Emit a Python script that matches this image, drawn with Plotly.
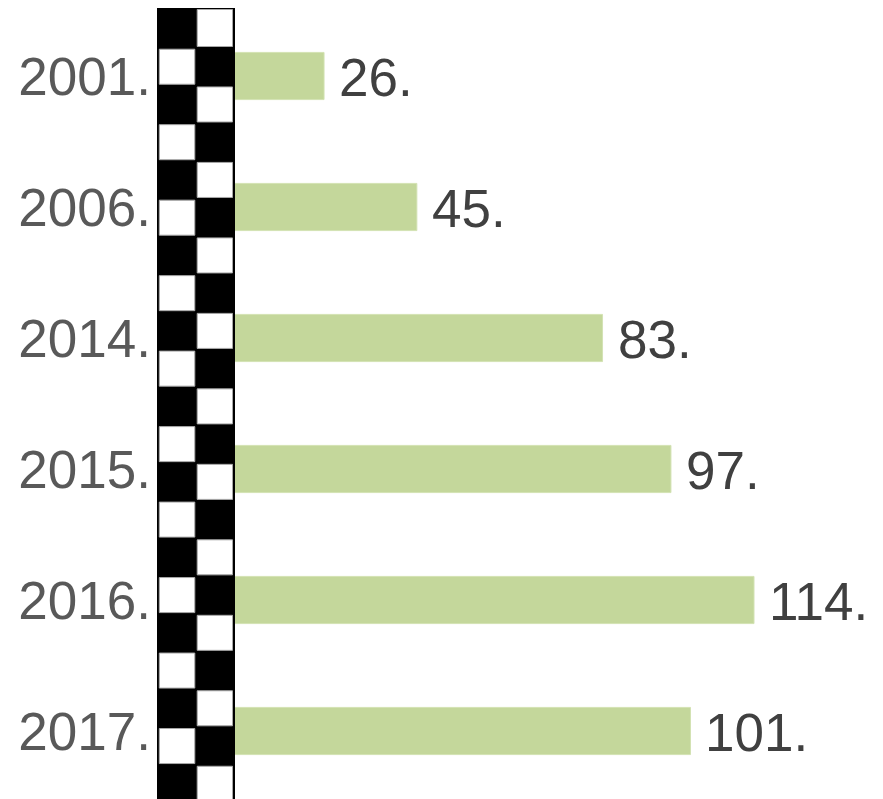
import plotly.graph_objects as go

categories = ["2001", "2006", "2014", "2015", "2016", "2017"]
values = [26, 45, 83, 97, 114, 101]
value_labels = ["26.", "45.", "83.", "97.", "114.", "101."]
tick_labels = ["2001.", "2006.", "2014.", "2015.", "2016.", "2017."]

W, H = 883, 799
ML = 149
PLOT_W = W - ML
X0 = 189          # pixel of value 0
SCALE = 4.886     # pixels per unit

fig = go.Figure()
fig.add_trace(go.Bar(
    y=categories, x=values, orientation="h",
    marker=dict(color="#c4d79b", line=dict(color="#d3e2b3", width=1)),
    width=0.36, hoverinfo="skip",
))

for i, (v, t) in enumerate(zip(values, value_labels)):
    fig.add_annotation(x=v, y=i, text=t, showarrow=False, xanchor="left",
                       yanchor="middle", xshift=13, yshift=-1,
                       font=dict(family="Liberation Sans", size=53, color="#404040"))

# checkered strip (decoration) in paper coords
def px(xp):
    return (xp - ML) / PLOT_W

def py(yp):
    return 1 - yp / H

shapes = []
shapes.append(dict(type="rect", xref="paper", yref="paper", layer="above",
                   x0=px(149), x1=px(227), y0=py(0), y1=py(H + 2),
                   fillcolor="black", line=dict(width=0)))
row_h = 37.74
k = 0
while True:
    top = 0 if k == 0 else 39.7 + row_h * (k - 1)
    bot = 39.7 + row_h * k
    if top >= H:
        break
    if k % 2 == 0:
        xa, xb = 189.2, 224.5
    else:
        xa, xb = 151.3, 186.8
    shapes.append(dict(type="rect", xref="paper", yref="paper", layer="above",
                       x0=px(xa), x1=px(xb), y0=py(top + 1.5), y1=py(min(bot - 1.2, H + 5)),
                       fillcolor="white", line=dict(color="#a8a8a8", width=1)))
    k += 1

fig.update_layout(
    width=W, height=H,
    margin=dict(l=ML, r=0, t=0, b=0),
    paper_bgcolor="white", plot_bgcolor="white",
    showlegend=False,
    shapes=shapes,
    xaxis=dict(range=[(ML - X0) / SCALE, (W - X0) / SCALE], visible=False,
               showgrid=False, zeroline=False),
    yaxis=dict(type="category", categoryorder="array", categoryarray=categories,
               range=[(H - 68) / 131, -68 / 131], showgrid=False, zeroline=False,
               ticks="", tickmode="array", tickvals=categories, ticktext=tick_labels,
               ticklabelstandoff=5, showline=False,
               tickfont=dict(family="Liberation Sans", size=53, color="#595959")),
)

fig.write_html("out.html")
